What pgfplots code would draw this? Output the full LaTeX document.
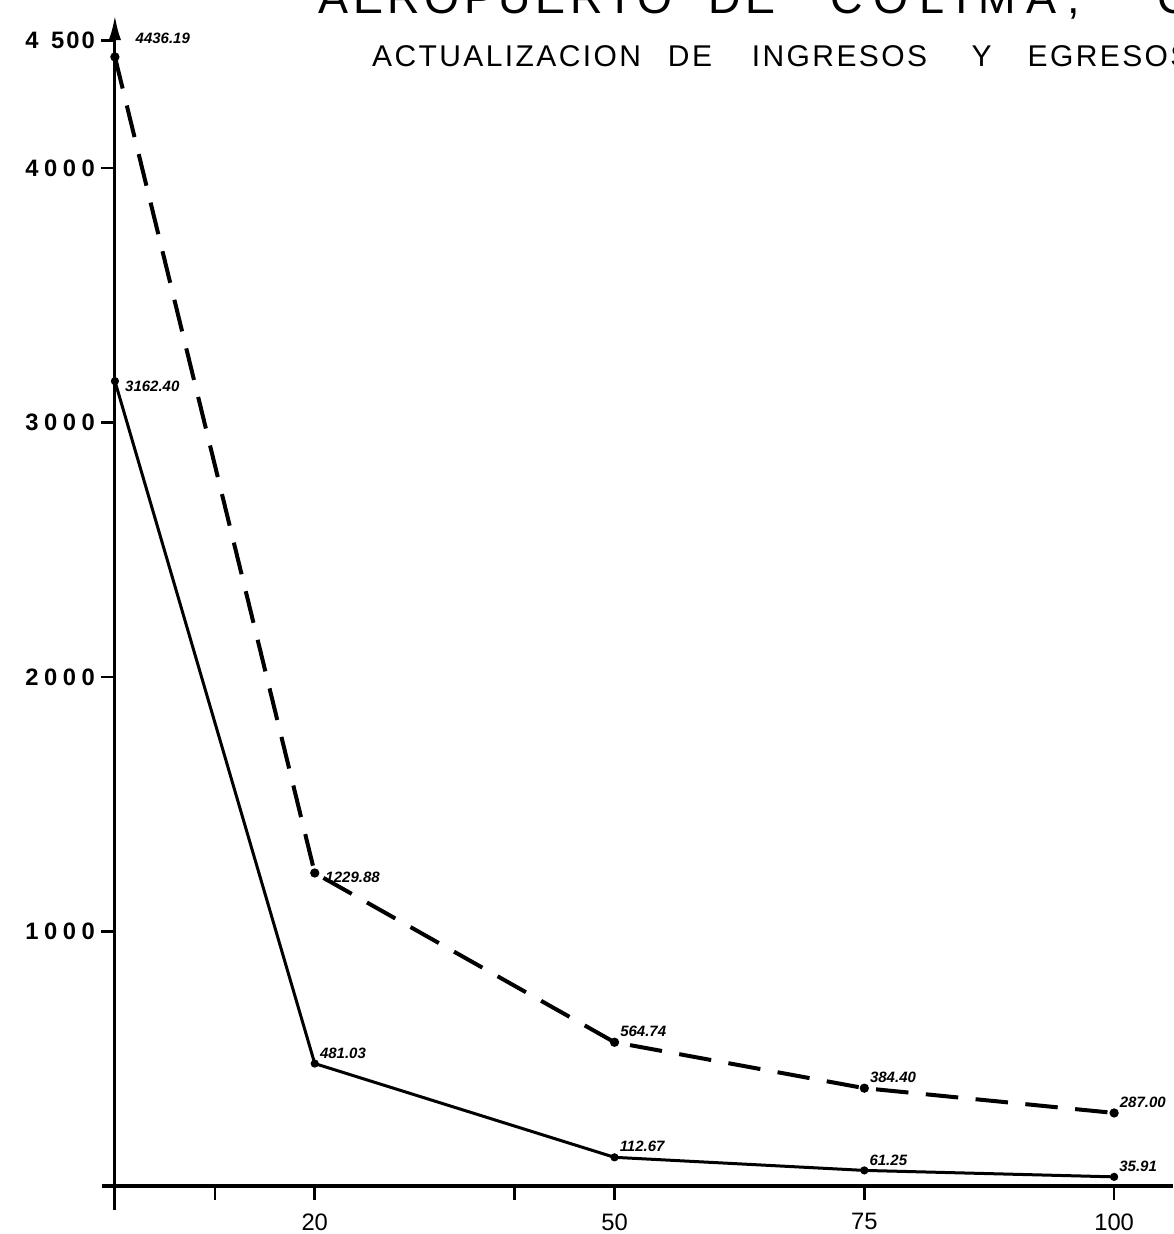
\documentclass[border=0pt]{standalone}
\usepackage{pgfplots}
\pgfplotsset{compat=1.18}
\usepackage{pgfplotstable}
\usepackage{fontspec}
\setmainfont{Liberation Sans}
\newfontfamily\titlefont[LetterSpace=10]{Liberation Sans}
\newfontfamily\titlewide[LetterSpace=24]{Liberation Sans}
\newfontfamily\subfont[LetterSpace=8]{Liberation Sans}
\usetikzlibrary{arrows.meta}

% dashed series
\pgfplotstableread{
x y lbl
0 4436.19 4436.19
20 1229.88 1229.88
50 564.74 564.74
75 384.40 384.40
100 287.00 287.00
}\serieA

% solid series
\pgfplotstableread{
x y lbl
0 3162.40 3162.40
20 481.03 481.03
50 112.67 112.67
75 61.25 61.25
100 35.91 35.91
}\serieB

\begin{document}
\begin{tikzpicture}
\begin{axis}[
  scale only axis,
  width=428.4pt, height=477.8pt,
  xmin=-1.3, xmax=105.9, ymin=-94, ymax=4600,
  axis lines=middle,
  clip=false,
  x axis line style={-, line width=1.5pt},
  y axis line style={-{Latex[length=10pt,width=5pt]}, line width=1.2pt},
  xtick={10,20,40,50,75,100},
  xticklabels={,\textrm{20},,\textrm{50},\textrm{75},\textrm{100}},
  ytick={1000,2000,3000,4000,4500},
  yticklabels={
    \textbf{1\hspace{2.2pt}0\hspace{2.2pt}0\hspace{2.2pt}0},
    \textbf{2\hspace{2.2pt}0\hspace{2.2pt}0\hspace{2.2pt}0},
    \textbf{3\hspace{2.2pt}0\hspace{2.2pt}0\hspace{2.2pt}0},
    \textbf{4\hspace{2.2pt}0\hspace{2.2pt}0\hspace{2.2pt}0},
    \textbf{4\hspace{5pt}5\hspace{0.8pt}0\hspace{0.8pt}0}},
  /pgf/number format/assume math mode=true,
  tick align=outside,
  major tick length=5.5pt,
  tick style={line width=1pt, black},
  xticklabel style={font=\fontsize{9.5}{10}\selectfont, yshift=-2pt},
  yticklabel style={font=\fontsize{9.5}{10}\selectfont, xshift=1pt},
  lbl/.style={
    point meta=explicit symbolic,
    nodes near coords,
    every node near coord/.append style={
      font=\fontsize{6}{7}\selectfont\bfseries\itshape,
      anchor=south west, inner sep=1.5pt, solid}},
]
\addplot[black, line width=1.6pt, dash pattern=on 13pt off 7pt,
  mark=*, mark size=1pt, mark options={solid}, lbl,
  coordinate style/.condition={\coordindex==0}{xshift=6pt, yshift=3pt},
  coordinate style/.condition={\coordindex==1}{xshift=2pt, yshift=-6pt}]
  table[x=x, y=y, meta=lbl] {\serieA};
\addplot[black, line width=1.2pt, mark=*, mark size=1pt, lbl,
  coordinate style/.condition={\coordindex==0}{xshift=2pt, yshift=-6.5pt}]
  table[x=x, y=y, meta=lbl] {\serieB};

\node[anchor=base west, font=\titlefont\fontsize{18}{20}\selectfont]
  at (axis cs:19.5,4605) {AEROPUERTO};
\node[anchor=base west, font=\titlefont\fontsize{18}{20}\selectfont]
  at (axis cs:58.5,4605) {DE};
\node[anchor=base west, font=\titlewide\fontsize{18}{20}\selectfont]
  at (axis cs:70.7,4605) {COLIMA,};
\node[anchor=base west, font=\titlefont\fontsize{18}{20}\selectfont]
  at (axis cs:103.5,4605) {C};

\node[anchor=base west, inner sep=0, font=\subfont\fontsize{12}{14}\selectfont]
  at (axis cs:25.7,4397) {ACTUALIZACION};
\node[anchor=base west, inner sep=0, font=\subfont\fontsize{12}{14}\selectfont]
  at (axis cs:55.3,4397) {DE};
\node[anchor=base west, inner sep=0, font=\subfont\fontsize{12}{14}\selectfont]
  at (axis cs:63.7,4397) {INGRESOS};
\node[anchor=base west, inner sep=0, font=\subfont\fontsize{12}{14}\selectfont]
  at (axis cs:85.7,4397) {Y};
\node[anchor=base west, inner sep=0, font=\subfont\fontsize{12}{14}\selectfont]
  at (axis cs:91.3,4397) {EGRESOS};

\coordinate (bl) at (axis cs:-11.5,-188.6);
\coordinate (tr) at (axis cs:105.9,4660);
\end{axis}
\pgfresetboundingbox
\path[use as bounding box] (bl) rectangle (tr);
\end{tikzpicture}
\end{document}
